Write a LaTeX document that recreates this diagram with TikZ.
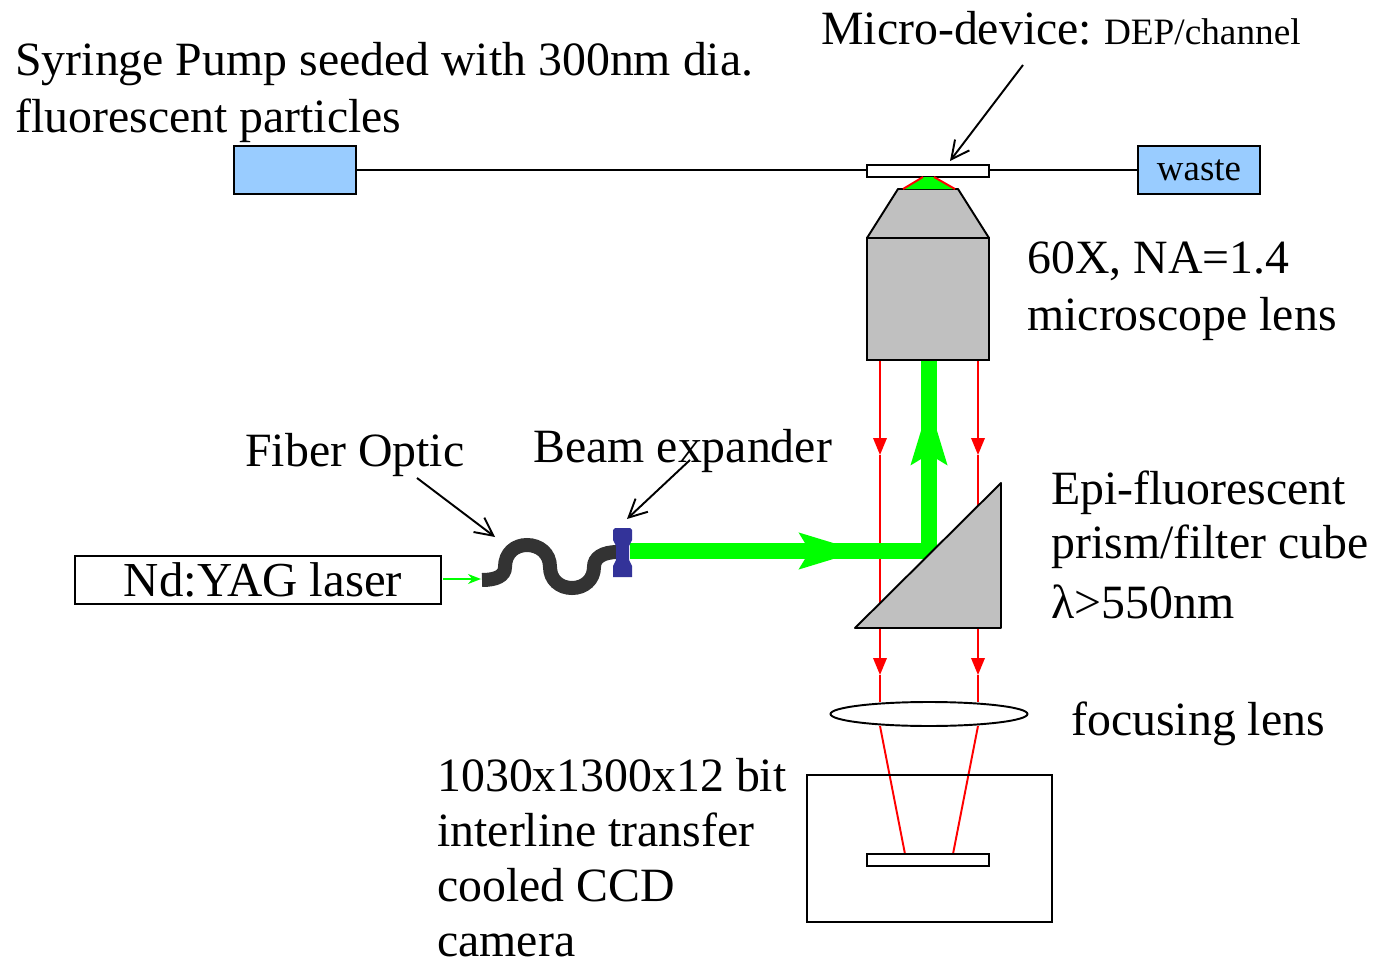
\documentclass[tikz,border=0pt]{standalone}
\usepackage{fontspec}
\setmainfont{Liberation Serif}
\usetikzlibrary{arrows.meta,backgrounds,shapes.geometric}
\definecolor{pumpblue}{HTML}{99CCFF}
\definecolor{partgray}{HTML}{C0C0C0}
\definecolor{fiberdark}{HTML}{333333}
\definecolor{expblue}{HTML}{333399}

\begin{document}
\begin{tikzpicture}[
    x=0.02cm, y=-0.02cm,
    >=Stealth,
    box/.style={draw, line width=1.1pt, inner sep=0pt, outer sep=0pt, anchor=north west},
    part/.style={draw, line width=1.1pt, fill=partgray, line join=round},
    lbl/.style={anchor=north west, inner sep=0pt, align=left,
                font=\fontsize{27.2}{31.3}\selectfont},
    lblwide/.style={lbl, font=\fontsize{27.2}{32.4}\selectfont},
    leader/.style={-{Straight Barb[length=0.36cm,width=0.36cm]}, line width=1.1pt},
    tube/.style={line width=1.1pt},
    redray/.style={red, line width=1.1pt},
    redarr/.style={redray, -{Stealth[length=0.34cm,width=0.27cm,inset=0pt]}},
    greenbeam/.style={green, line width=0.32cm},
    greenarr/.style={greenbeam, -{Stealth[length=1.2cm,width=0.68cm,inset=0.18cm]}}
  ]
  \useasboundingbox (0,0) rectangle (1374,960);

  % boxes
  \node (pump)   [box, fill=pumpblue, minimum width=2.44cm, minimum height=0.96cm] at (234,146) {};
  \node (waste)  [box, fill=pumpblue, minimum width=2.44cm, minimum height=0.96cm,
                  font=\fontsize{21}{25}\selectfont] at (1138,146) {waste};
  \node (device) [box, fill=white, minimum width=2.44cm, minimum height=0.24cm] at (867,165) {};
  \node (body)   [box, fill=partgray, minimum width=2.44cm, minimum height=2.44cm] at (867,238) {};
  \node (laser)  [box, minimum width=7.32cm, minimum height=0.96cm,
                  font=\fontsize{27.8}{30}\selectfont] at (75,556) {\hspace*{0.2cm}\raisebox{-1pt}{Nd:YAG laser}};
  \node (camera) [box, minimum width=4.9cm, minimum height=2.94cm] at (807,775) {};
  \node (ccd)    [box, fill=white, minimum width=2.44cm, minimum height=0.24cm] at (867,854) {};
  \node (lens)   [draw, line width=1.1pt, fill=white, ellipse, inner sep=0pt,
                  minimum width=3.94cm, minimum height=0.48cm] at (929,714) {};

  % objective tip, prism, expander
  \draw[part] (867,238) -- (898,189) -- (958,189) -- (989,238) -- cycle;
  \fill[green] (903,189) -- (923,177) -- (934,177) -- (955,189) -- cycle;
  \draw[redray] (903,189) -- (923,177) (955,189) -- (934,177);
  \draw[part] (855,628) -- (1001,483) -- (1001,628) -- cycle;
  \coordinate (prismL) at (880,628);
  \coordinate (prismR) at (978,628);

  \draw[fiberdark, line width=0.28cm] (482,580) .. controls (496,580) and (505,576) .. (505,567)
    .. controls (505,553) and (515,545) .. (527,545)
    .. controls (539,545) and (550,553) .. (550,567)
    .. controls (550,580) and (560,588) .. (572,588)
    .. controls (584,588) and (594,580) .. (594,567)
    .. controls (594,558) and (602,552) .. (618,552);
  \fill[expblue] (613,530) -- (615,528) -- (630,528) -- (632,530) -- (632,540) -- (629,546)
    -- (629,560) -- (632,566) -- (632,577) -- (613,577) -- (613,566) -- (616,560)
    -- (616,546) -- (613,540) -- cycle;
  \coordinate (expout) at (630,551);

  % rays under the parts
  \begin{scope}[on background layer]
    \coordinate (a1) at (880,455);
    \coordinate (a2) at (978,455);
    \coordinate (a3) at (880,675);
    \coordinate (a4) at (978,675);
    \coordinate (b1) at (880,726);
    \coordinate (b2) at (978,726);
    \coordinate (corner) at (921,551);
    \draw[redarr] (880,360) -- (a1);
    \draw[redarr] (978,360) -- (a2);
    \draw[redray] (a1) -- (880,628);
    \draw[redray] (a2) -- (978,520);
    \draw[redarr] (prismL) -- (a3);
    \draw[redarr] (prismR) -- (a4);
    \draw[redray] (a3) -- (880,702);
    \draw[redray] (a4) -- (978,702);
    \draw[redray] (b1) -- (905,854);
    \draw[redray] (b2) -- (953,854);
    \draw[greenbeam] (expout) -- (corner);
    \draw[greenbeam] (929,559) -- (929,360);
    \draw[greenarr] (expout) -- (861,551);
    \draw[greenarr] (929,500) -- (929,403);
  \end{scope}

  % tubing
  \coordinate (laserout) at (443,579);
  \coordinate (fiberin) at (481,579);
  \draw[tube] (pump.east) -- (pump.east -| device.west);
  \draw[tube] (waste.west -| device.east) -- (waste.west);
  \draw[green, line width=0.9pt, -{Stealth[length=0.26cm,width=0.2cm]}] (laserout) -- (fiberin);

  % labels
  \node (syringe) [lblwide] at (15,42) {Syringe Pump seeded with 300nm dia.\\fluorescent particles};
  \node (micro)   [lbl] at (821,11) {Micro-device:\hspace{-2.2pt} {\fontsize{21.2}{22}\selectfont DEP/channel}};
  \node (na)      [lblwide] at (1027,241) {60X, NA=1.4\\microscope lens};
  \node (fiber)   [lbl] at (245,433) {Fiber Optic};
  \node (beam)    [lbl] at (533,429) {Beam expander};
  \node (epi)     [lbl] at (1051,470) {Epi-fluorescent\\prism/filter cube\\[2.3pt]λ>550nm};
  \node (focus)   [lbl] at (1071,701) {focusing lens};
  \node (ccdtext) [lbl] at (437,758) {1030x1300x12 bit\\interline transfer\\cooled CCD\\camera};

  \coordinate (microtail) at (1023,65);
  \coordinate (fibertail) at (417,478);
  \coordinate (beamtail)  at (690,460);
  \coordinate (microhead) at (950,161);
  \coordinate (fiberhead) at (495,537);
  \coordinate (beamhead)  at (627,519);
  \draw[leader] (microtail) -- (microhead);
  \draw[leader] (fibertail) -- (fiberhead);
  \draw[leader] (beamtail)  -- (beamhead);
\end{tikzpicture}
\end{document}
